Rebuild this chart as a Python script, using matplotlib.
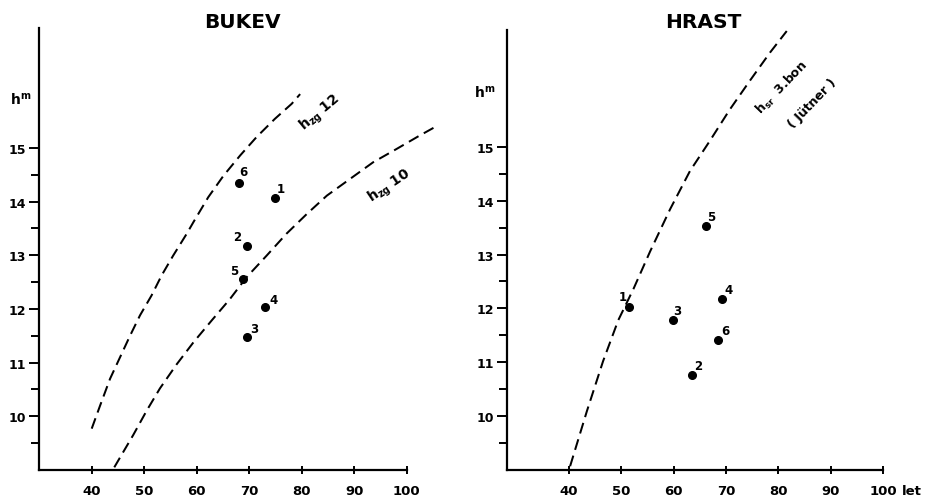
import matplotlib
matplotlib.use("Agg")
import matplotlib.pyplot as plt
from matplotlib.ticker import FixedLocator

plt.rcParams['font.family'] = ['DejaVu Sans']
plt.rcParams['font.weight'] = 'bold'
plt.rcParams['mathtext.fontset'] = 'custom'
plt.rcParams['mathtext.rm'] = 'DejaVu Sans:bold'
plt.rcParams['mathtext.it'] = 'DejaVu Sans:bold'
plt.rcParams['mathtext.bf'] = 'DejaVu Sans:bold'

# ---------------- data ----------------
# BUKEV (beech)
bukev_ids = ['1', '2', '3', '4', '5', '6']
bukev_age = [74.9, 69.5, 69.5, 73.0, 68.8, 68.0]
bukev_h = [14.06, 13.17, 11.47, 12.04, 12.55, 14.35]

hzg12_age = [40.0, 41.6, 43.5, 45.4, 47.3, 49.2, 51.4, 53.3, 55.5, 58.1, 59.4,
             62.2, 65.1, 68.3, 71.4, 74.9, 78.1, 79.7]
hzg12_h = [9.77, 10.2, 10.7, 11.1, 11.5, 11.88, 12.25, 12.62, 12.99, 13.4, 13.62,
           14.08, 14.48, 14.86, 15.2, 15.54, 15.82, 16.0]

hzg10_age = [44.3, 47.9, 50.5, 53.0, 56.2, 59.4, 62.9, 66.3, 69.5, 73.3, 77.1,
             81.0, 84.8, 89.2, 93.6, 98.1, 102.5, 106.0]
hzg10_h = [9.05, 9.65, 10.11, 10.52, 10.97, 11.38, 11.79, 12.18, 12.59, 12.99, 13.4,
           13.77, 14.11, 14.42, 14.73, 14.98, 15.23, 15.42]

# HRAST (oak)
hrast_ids = ['1', '2', '3', '4', '5', '6']
hrast_age = [51.5, 63.4, 59.9, 69.3, 66.2, 68.5]
hrast_h = [12.03, 10.76, 11.79, 12.18, 13.53, 11.42]

hsr_age = [40.2, 43.4, 46.5, 49.4, 52.3, 55.5, 59.3, 63.1, 66.9, 70.7, 74.5, 78.4, 81.6]
hsr_h = [9.07, 10.09, 11.02, 11.78, 12.36, 13.06, 13.84, 14.55, 15.11, 15.69, 16.22, 16.75, 17.15]

x_ticks = [40, 50, 60, 70, 80, 90, 100]
y_ticks = [10, 11, 12, 13, 14, 15]
y_minor = [9.5, 10.5, 11.5, 12.5, 13.5, 14.5]

# label offsets (points) for the numbered dots
bukev_off = {'1': (4.5, 7), '2': (-7, 7), '3': (5.5, 6.5), '4': (6, 5.5), '5': (-6.5, 6.5), '6': (3.5, 8)}
hrast_off = {'1': (-4.5, 7.5), '2': (4.5, 7), '3': (3, 7), '4': (4.5, 6.5), '5': (3.5, 7), '6': (5, 6.5)}

W, H = 928, 502
fig = plt.figure(figsize=(W / 100, H / 100), dpi=100)

dash = (0, (5.5, 3.0))
lw = 1.45


def style_axes(ax, xmin, xmax, ymin, ymax):
    ax.set_xlim(xmin, xmax)
    ax.set_ylim(ymin, ymax)
    for s in ['top', 'right']:
        ax.spines[s].set_visible(False)
    for s in ['left', 'bottom']:
        ax.spines[s].set_linewidth(1.6)
    ax.spines['bottom'].set_bounds(xmin, 100)
    ax.xaxis.set_major_locator(FixedLocator(x_ticks))
    ax.yaxis.set_major_locator(FixedLocator(y_ticks))
    ax.yaxis.set_minor_locator(FixedLocator(y_minor))
    ax.tick_params(axis='x', direction='inout', length=6, width=1.4, pad=7, labelsize=9.5)
    ax.tick_params(axis='y', which='major', direction='out', length=7, width=1.4, pad=2.5, labelsize=9)
    ax.tick_params(axis='y', which='minor', direction='out', length=5.5, width=1.4)
    for t in ax.get_xticklabels() + ax.get_yticklabels():
        t.set_fontweight('bold')


# ---------------- BUKEV ----------------
ax1 = fig.add_axes([39.2 / W, 1 - 471 / H, 78 * 5.25 / W, 8.225 * 53.7 / H])
style_axes(ax1, 30, 108, 9, 17.225)
ax1.plot(hzg12_age, hzg12_h, color='black', lw=lw, linestyle=dash)
ax1.plot(hzg10_age, hzg10_h, color='black', lw=lw, linestyle=dash)
ax1.plot(bukev_age, bukev_h, 'o', color='black', ms=5.5)
for i, a, h in zip(bukev_ids, bukev_age, bukev_h):
    ax1.annotate(i, (a, h), xytext=bukev_off[i], textcoords='offset points',
                 ha='center', va='center', fontsize=8.5, fontweight='bold')
ax1.text(83.5, 15.67, r'h$_{\mathrm{zg}}$ 12', rotation=40, ha='center', va='center',
         fontsize=10, fontweight='bold', rotation_mode='anchor')
ax1.text(96.8, 14.29, r'h$_{\mathrm{zg}}$ 10', rotation=34, ha='center', va='center',
         fontsize=10, fontweight='bold', rotation_mode='anchor')

# ---------------- HRAST ----------------
ax2 = fig.add_axes([507.3 / W, 1 - 471 / H, (108 - 28.2) * 5.233 / W, 8.17 * 53.86 / H])
style_axes(ax2, 28.2, 108, 9, 17.17)
ax2.plot(hsr_age, hsr_h, color='black', lw=lw, linestyle=dash)
ax2.plot(hrast_age, hrast_h, 'o', color='black', ms=5.5)
for i, a, h in zip(hrast_ids, hrast_age, hrast_h):
    ax2.annotate(i, (a, h), xytext=hrast_off[i], textcoords='offset points',
                 ha='center', va='center', fontsize=8.5, fontweight='bold')
ax2.text(80.7, 16.11, r'h$_{\mathrm{sr}}$  3.bon', rotation=46, ha='center', va='center',
         fontsize=9, fontweight='bold', rotation_mode='anchor')
ax2.text(86.4, 15.82, '( Jütner )', rotation=46, ha='center', va='center',
         fontsize=9, fontweight='bold', rotation_mode='anchor')

# axis unit labels and titles
fig.text(21 / W, 1 - 100 / H, r'h$^{\mathrm{m}}$', ha='center', va='center', fontsize=10, fontweight='bold')
fig.text(485 / W, 1 - 93 / H, r'h$^{\mathrm{m}}$', ha='center', va='center', fontsize=10, fontweight='bold')
fig.text(912 / W, 1 - 492 / H, 'let', ha='center', va='center', fontsize=9.5, fontweight='bold')
fig.text(242 / W, 1 - 22 / H, 'BUKEV', ha='center', va='center', fontsize=14.5, fontweight='bold')
fig.text(703 / W, 1 - 22 / H, 'HRAST', ha='center', va='center', fontsize=14.5, fontweight='bold')

fig.savefig('out.png', dpi=100)
